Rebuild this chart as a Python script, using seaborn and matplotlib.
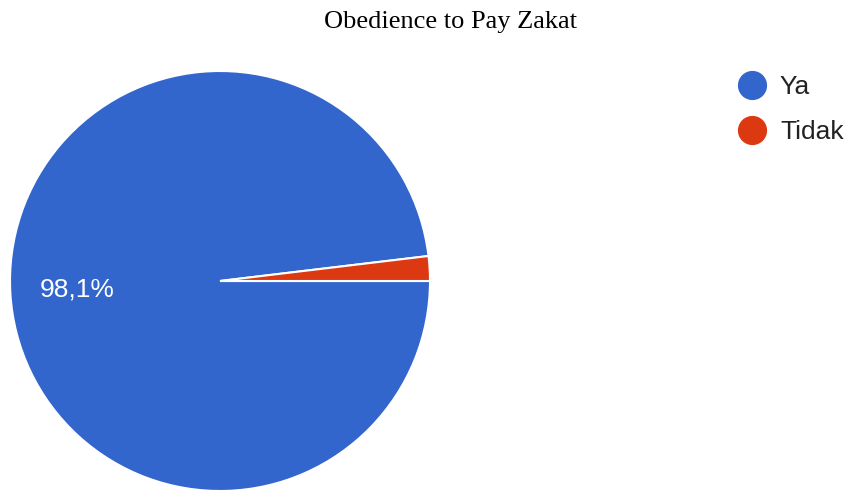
import matplotlib
matplotlib.use("Agg")
import matplotlib.pyplot as plt
from matplotlib.lines import Line2D
import seaborn as sns

# data
labels = ["Ya", "Tidak"]
values = [98.1, 1.9]
colors = ["#3366CC", "#DC3912"]
title = "Obedience to Pay Zakat"

sns.set_theme(style="white")
plt.rcParams["font.family"] = ["Liberation Sans", "DejaVu Sans"]

fig = plt.figure(figsize=(8.51, 4.91), dpi=100)
ax = fig.add_axes([10 / 851, 0.0, 420 / 851, 420 / 491])


def fmt_pct(p):
    # only the big slice gets a label, comma as decimal separator
    if p < 5:
        return ""
    return f"{p:.1f}%".replace(".", ",")


wedges, texts, autotexts = ax.pie(
    values,
    colors=colors,
    startangle=0,
    counterclock=False,
    autopct=fmt_pct,
    pctdistance=0.68,
    wedgeprops=dict(edgecolor="white", linewidth=1.5),
    textprops=dict(color="white", fontsize=19),
)
ax.set_xlim(-1.0, 1.0)
ax.set_ylim(-1.0, 1.0)
ax.set_aspect("equal")

fig.text(450 / 851, 1 - 22 / 491, title, ha="center", va="center",
         fontsize=19, family=["Liberation Serif", "DejaVu Serif"], color="black")

handles = [Line2D([0], [0], marker="o", linestyle="", markersize=20,
                  markerfacecolor=c, markeredgecolor=c) for c in colors]
fig.legend(handles, labels, loc="upper left", bbox_to_anchor=(714 / 851, 1 - 51 / 491),
           frameon=False, fontsize=19, handletextpad=0.5, labelspacing=0.8,
           handlelength=1.1, labelcolor="#222222")

fig.savefig("out.png", dpi=100)
